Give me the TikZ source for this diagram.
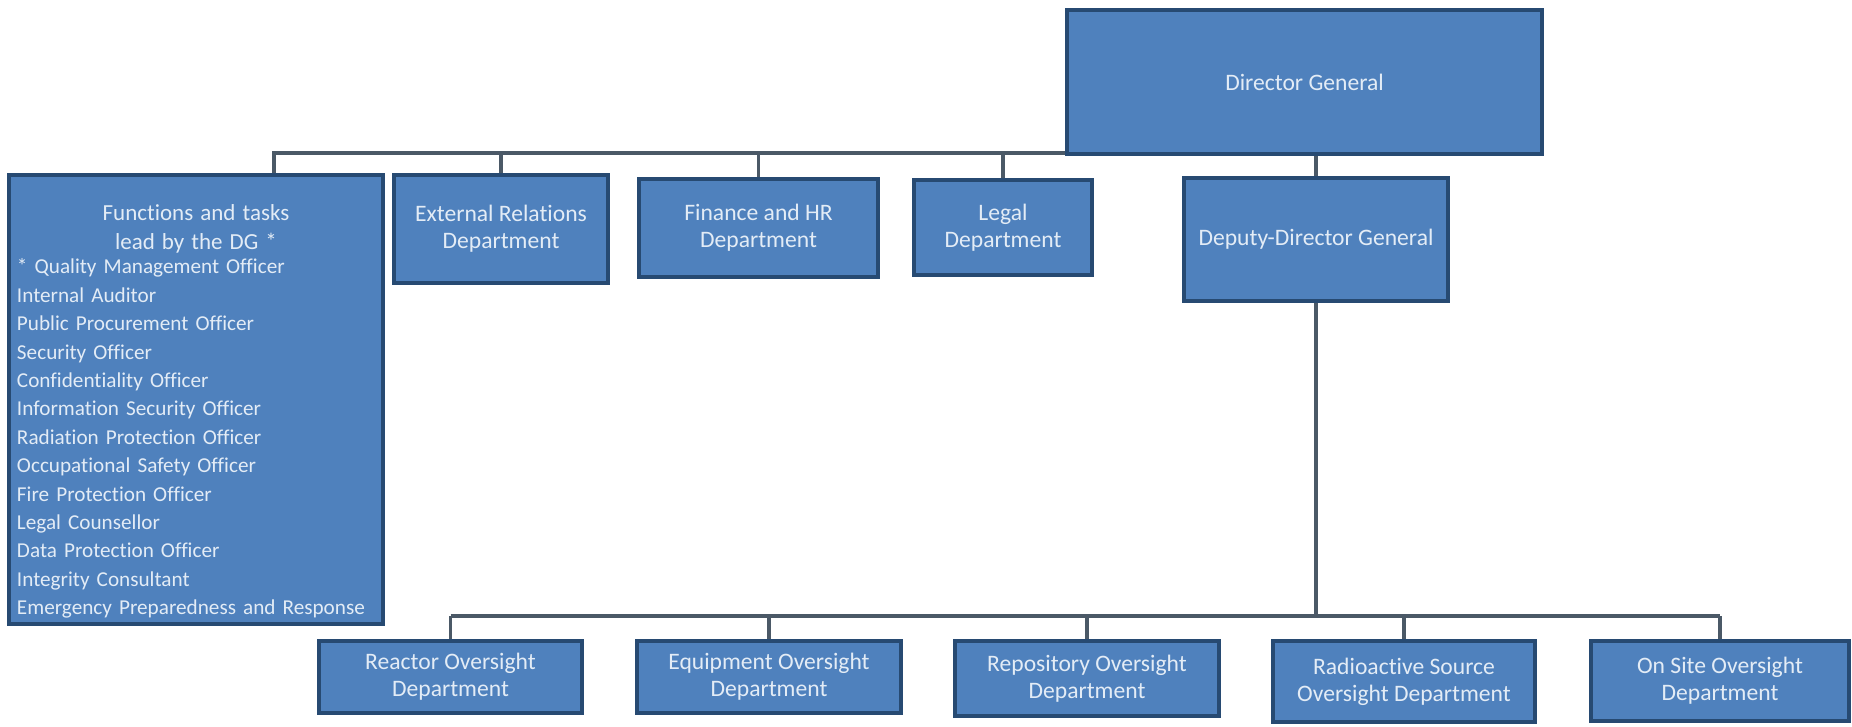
\documentclass[tikz,border=0pt]{standalone}
\usepackage{fontspec}
\setmainfont{Carlito}[Ligatures=NoCommon]
\definecolor{boxfill}{HTML}{4F81BD}
\definecolor{boxline}{HTML}{274A72}
\definecolor{boxtext}{HTML}{E3ECF6}
\definecolor{linkline}{HTML}{4B5967}

\begin{document}
\begin{tikzpicture}[x=0.5pt,y=-0.5pt,
  orgbox/.style={draw=boxline, line width=2pt, fill=boxfill, text=boxtext,
    align=center, inner sep=2pt, font=\fontsize{11.8}{13.5}\selectfont},
  link/.style={draw=linkline, line width=1.7pt}]
  \useasboundingbox (0,0) rectangle (1852,727);
  % top level
  \node[orgbox, minimum width=237.5pt, minimum height=72pt] (dg) at (1304.5,82) {Director General};
  \node[orgbox, minimum width=187pt, minimum height=224.5pt, text width=179pt, inner xsep=4pt,
    align=left, font=\fontsize{10.6}{14.2}\selectfont] (func) at (196,399.5)
    {\centering{\fontsize{11.5}{12}\selectfont\rule{0pt}{20pt}Functions and tasks\\ lead by the DG *}\par
     \vspace{-1.8pt}\raggedright * Quality Management Officer\\
     Internal Auditor\\
     Public Procurement Officer\\
     Security Officer\\
     Confidentiality Officer\\
     Information Security Officer\\
     Radiation Protection Officer\\
     Occupational Safety Officer\\
     Fire Protection Officer\\
     Legal Counsellor\\
     Data Protection Officer\\
     Integrity Consultant\\
     Emergency Preparedness and Response};
  \node[orgbox, minimum width=107pt, minimum height=54pt] (ext) at (501,229) {External Relations\\Department};
  \node[orgbox, minimum width=119.5pt, minimum height=49pt] (fin) at (758.5,228) {Finance and HR\\Department};
  \node[orgbox, minimum width=89pt, minimum height=47.5pt] (legal) at (1003,227.5) {Legal\\Department};
  \node[orgbox, minimum width=132pt, minimum height=61.5pt] (ddg) at (1316,239.5) {Deputy-Director General};
  % oversight departments
  \node[orgbox, minimum width=131.5pt, minimum height=36pt] (reactor) at (450.5,677) {Reactor Oversight\\Department};
  \node[orgbox, minimum width=132pt, minimum height=36pt] (equip) at (769,677) {Equipment Oversight\\Department};
  \node[orgbox, minimum width=132pt, minimum height=37.5pt] (repo) at (1087,678.5) {Repository Oversight\\Department};
  \node[orgbox, minimum width=131pt, minimum height=40.5pt] (radio) at (1404,681.5) {Radioactive Source\\Oversight Department};
  \node[orgbox, minimum width=129pt, minimum height=40pt] (onsite) at (1720,681) {On Site Oversight\\Department};

  \coordinate (busL) at (274,153);
  \coordinate (busB) at (1316,616);
  \draw[link] (busL |- func.north) -- (busL) -- (busL -| dg.west);
  \foreach \n in {ext,fin,legal}
    \draw[link] (\n.north) -- (\n.north |- busL);
  \draw[link] (dg.south -| ddg.north) -- (ddg.north);
  \draw[link] (ddg.south) -- (busB);
  \draw[link] (reactor.north |- busB) -- (onsite.north |- busB);
  \foreach \n in {reactor,equip,repo,radio,onsite}
    \draw[link] (\n.north) -- (\n.north |- busB);
\end{tikzpicture}
\end{document}
